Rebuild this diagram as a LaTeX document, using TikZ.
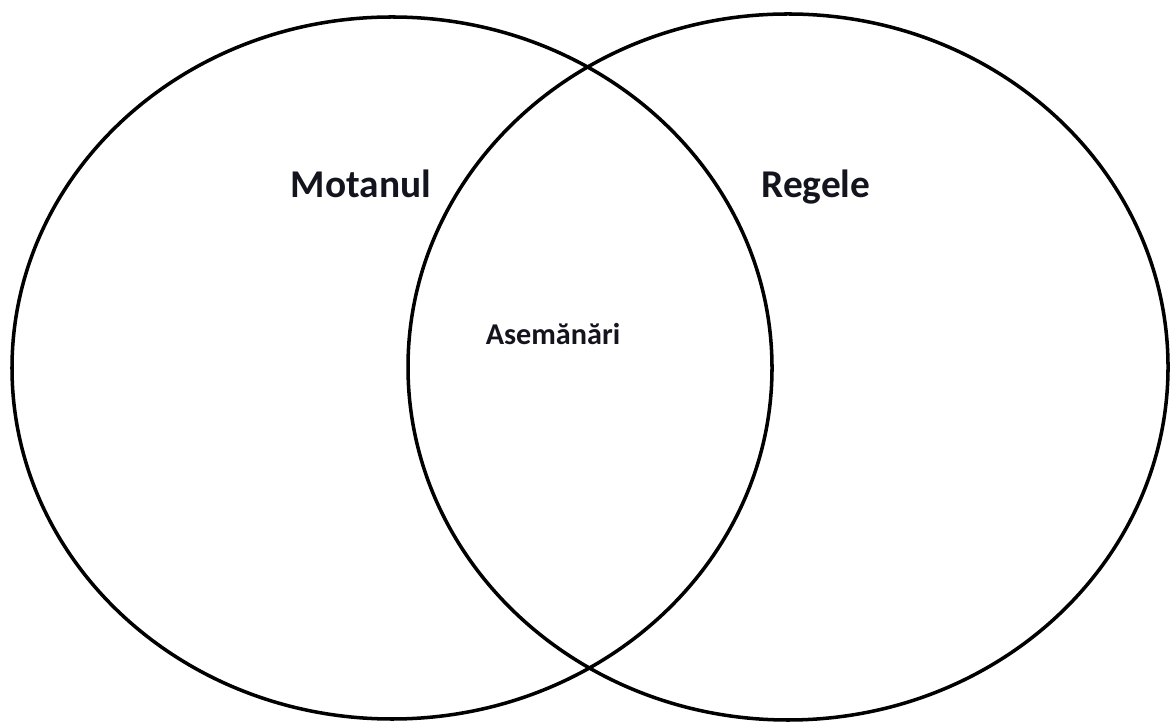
\documentclass[tikz,border=0pt]{standalone}
\usepackage{fontspec}
\setmainfont{Carlito}
\usepackage{xcolor}
\definecolor{vennline}{RGB}{0, 0, 0}
\definecolor{venntext}{RGB}{20, 20, 30}

\begin{document}
\begin{tikzpicture}
\useasboundingbox (0,0) rectangle (11.70,7.22);
\draw[vennline, line width=1pt] (3.92,3.54) ellipse [x radius=3.80cm, y radius=3.51cm];
\draw[vennline, line width=1pt] (7.88,3.55) ellipse [x radius=3.80cm, y radius=3.53cm];
\node[anchor=base, text=venntext, font=\fontsize{11.2}{13}\selectfont\bfseries] (motanul) at (3.61,5.24) {Motanul};
\node[anchor=base, text=venntext, font=\fontsize{11.2}{13}\selectfont\bfseries] (regele) at (8.16,5.24) {Regele};
\node[anchor=base, text=venntext, font=\fontsize{8.6}{10}\selectfont\bfseries] (asemanari) at (5.53,3.77) {Asemănări};
\end{tikzpicture}
\end{document}
